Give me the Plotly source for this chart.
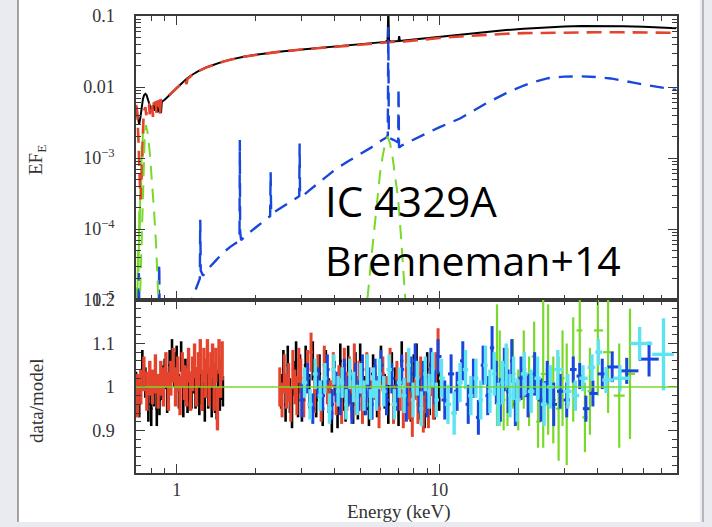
import numpy as np
import plotly.graph_objects as go

# ---------------- model components: energy (keV) vs E*F_E ----------------
total_kev = [0.700, 0.705, 0.710, 0.715, 0.720, 0.728, 0.736, 0.744, 0.752, 0.760,
             0.768, 0.776, 0.784, 0.792, 0.800, 0.810, 0.818, 0.824, 0.830, 0.842,
             0.848, 0.854, 0.866, 0.872, 0.878, 0.900, 0.930, 0.960, 1.00, 1.05,
             1.10, 1.15, 1.20, 1.30, 1.40, 1.50, 1.60, 1.70, 1.80, 2.00,
             2.20, 2.50, 3.00, 3.50, 4.00, 4.50, 5.00, 5.50, 6.00, 6.25,
             6.36, 6.40, 6.44, 6.55, 6.80, 7.00, 7.04, 7.08, 7.50, 8.00,
             9.00, 10.0, 12.0, 15.0, 18.0, 21.0, 25.0, 30.0, 35.0, 40.0,
             50.0, 60.0, 70.0, 80.0]
total_eff = [0.0050, 0.0044, 0.0036, 0.0031, 0.0030, 0.0038, 0.0055, 0.0068, 0.0077, 0.0080,
             0.0077, 0.0068, 0.0057, 0.0050, 0.0047, 0.0052, 0.0055, 0.0046, 0.0056, 0.0058,
             0.0044, 0.0059, 0.0061, 0.0043, 0.0062, 0.0066, 0.0073, 0.0083, 0.0097, 0.0116,
             0.0134, 0.0150, 0.0165, 0.0190, 0.0210, 0.0228, 0.0243, 0.0256, 0.0267, 0.0284,
             0.0299, 0.0317, 0.0338, 0.0356, 0.0371, 0.0384, 0.0396, 0.0408, 0.0420, 0.0432,
             0.0460, 0.1300, 0.0452, 0.0436, 0.0440, 0.0444, 0.0520, 0.0446, 0.0455, 0.0467,
             0.0490, 0.0512, 0.0548, 0.0595, 0.0633, 0.0663, 0.0692, 0.0712, 0.0722, 0.0725,
             0.0720, 0.0706, 0.0690, 0.0674]

powerlaw_kev = [0.700, 0.704, 0.708, 0.712, 0.716, 0.720, 0.724, 0.728, 0.732, 0.736,
                0.740, 0.744, 0.748, 0.752, 0.760, 0.766, 0.772, 0.784, 0.790, 0.796,
                0.806, 0.812, 0.818, 0.832, 0.838, 0.844, 0.858, 0.864, 0.870, 0.900,
                0.930, 0.960, 1.00, 1.05, 1.08, 1.09, 1.10, 1.15, 1.20, 1.30,
                1.40, 1.50, 1.60, 1.70, 1.80, 2.00, 2.20, 2.50, 3.00, 3.50,
                4.00, 4.50, 5.00, 5.50, 6.00, 6.40, 6.60, 7.00, 7.20, 7.50,
                8.00, 9.00, 10.0, 12.0, 15.0, 18.0, 21.0, 25.0, 30.0, 40.0,
                50.0, 60.0, 70.0, 80.0]
powerlaw_eff = [0.0056, 0.0052, 0.0044, 0.0030, 0.0016, 0.0008, 0.0004, 0.00026, 0.0003, 0.0006,
                0.0014, 0.0028, 0.0040, 0.0047, 0.0052, 0.0040, 0.0054, 0.0056, 0.0041, 0.0057,
                0.0058, 0.0038, 0.0059, 0.0061, 0.0042, 0.0062, 0.0064, 0.0040, 0.0065, 0.0069,
                0.0075, 0.0084, 0.0097, 0.0116, 0.0125, 0.0110, 0.0130, 0.0149, 0.0164, 0.0189,
                0.0209, 0.0227, 0.0242, 0.0255, 0.0266, 0.0283, 0.0298, 0.0316, 0.0337, 0.0355,
                0.0370, 0.0383, 0.0395, 0.0406, 0.0417, 0.0426, 0.0430, 0.0436, 0.0432, 0.0440,
                0.0452, 0.0472, 0.0490, 0.0515, 0.0545, 0.0562, 0.0573, 0.0581, 0.0587, 0.0590,
                0.0589, 0.0586, 0.0583, 0.0580]

reflection_kev = [0.712, 0.718, 0.724, None, 0.852, 0.858, 0.864, None,
                  1.10, 1.15, 1.20, 1.225, 1.23, 1.235, 1.26, 1.30, 1.40, 1.50,
                  1.60, 1.70, 1.735, 1.74, 1.745, 1.76, 1.80, 1.90, 2.00, 2.10,
                  2.20, 2.27, 2.28, 2.29, 2.35, 2.50, 2.70, 2.88, 2.93, 2.94,
                  2.95, 3.00, 3.05, 3.20, 3.50, 4.00, 4.50, 5.00, 5.50, 6.00,
                  6.30, 6.37, 6.40, 6.43, 6.50, 6.80, 6.98, 7.00, 7.03, 7.20,
                  7.50, 8.00, 9.00, 10.0, 12.0, 15.0, 18.0, 21.0, 23.0, 26.0,
                  30.0, 35.0, 40.0, 45.0, 50.0, 55.0, 60.0, 70.0, 80.0]
reflection_eff = [2e-6, 2.4e-5, 2e-6, None, 2e-6, 3.2e-5, 2e-6, None,
                  7e-6, 1.1e-5, 1.6e-5, 2.0e-5, 1.35e-4, 2.6e-5, 2.2e-5, 2.6e-5, 3.5e-5, 4.6e-5,
                  5.6e-5, 6.6e-5, 6.9e-5, 1.8e-3, 9.0e-5, 7.0e-5, 7.6e-5, 9.0e-5, 1.05e-4, 1.22e-4,
                  1.40e-4, 1.52e-4, 6.3e-4, 1.65e-4, 1.72e-4, 2.0e-4, 2.4e-4, 2.8e-4, 2.9e-4, 1.6e-3,
                  3.2e-4, 2.9e-4, 3.0e-4, 3.5e-4, 4.6e-4, 6.8e-4, 9.0e-4, 1.12e-3, 1.40e-3, 1.75e-3,
                  1.95e-3, 2.1e-3, 7.0e-2, 2.2e-3, 1.9e-3, 1.75e-3, 1.65e-3, 9.7e-3, 1.4e-3, 1.5e-3,
                  1.62e-3, 1.8e-3, 2.25e-3, 2.7e-3, 3.6e-3, 5.8e-3, 8.2e-3, 1.05e-2, 1.18e-2, 1.33e-2,
                  1.40e-2, 1.41e-2, 1.38e-2, 1.32e-2, 1.24e-2, 1.15e-2, 1.08e-2, 9.9e-3, 9.1e-3]

gauss_kev = [0.715, 0.725, 0.735, 0.745, 0.755, 0.763, 0.775, 0.790, 0.805, 0.820,
             0.835, 0.850, 0.860, None,
             5.20, 5.35, 5.50, 5.65, 5.80, 5.95, 6.10, 6.25, 6.36, 6.50,
             6.65, 6.80, 6.98, 7.15, 7.30, 7.45, 7.60]
gauss_eff = [3e-6, 1e-5, 6e-5, 4e-4, 1.8e-3, 2.9e-3, 2.3e-3, 1.2e-3, 5e-4, 1.8e-4,
             6e-5, 1.4e-5, 4e-6, None,
             5e-6, 1.2e-5, 3.5e-5, 1e-4, 2.6e-4, 6e-4, 1.1e-3, 1.7e-3, 2.0e-3, 1.6e-3,
             1.0e-3, 5.2e-4, 2.6e-4, 8e-5, 2.5e-5, 9e-6, 3e-6]

soft_kev = [0.700, 0.704, 0.708, 0.712, 0.716, 0.720, 0.724, 0.728, 0.732, 0.736,
            0.740, 0.744, 0.748]
soft_eff = [3e-6, 1.5e-5, 6e-6, 5e-5, 2.5e-5, 1.8e-4, 1e-4, 6e-4, 4e-4, 1.5e-3,
            1.0e-3, 2.8e-3, 2.2e-3]

# ---------------- data/model ratios ----------------
xis_a_soft_kev = [0.70, 0.72, 0.74, 0.76, 0.78, 0.80, 0.82, 0.84, 0.86, 0.88,
                  0.90, 0.92, 0.94, 0.96, 0.98, 1.00, 1.02, 1.04, 1.06, 1.08,
                  1.10, 1.12, 1.14, 1.16, 1.18, 1.20, 1.22, 1.24, 1.26, 1.28,
                  1.30, 1.32, 1.34, 1.36, 1.38, 1.40, 1.42, 1.44, 1.46, 1.48, 1.50]
xis_a_soft_ratio = [1.00, 0.97, 1.04, 1.01, 0.96, 0.95, 0.99, 0.95, 0.97, 1.01,
                    1.03, 0.98, 1.05, 1.07, 1.04, 1.06, 0.99, 1.07, 0.97, 1.03,
                    0.98, 1.00, 0.99, 1.02, 0.99, 1.01, 0.97, 1.00, 0.98, 0.96,
                    1.01, 0.99, 1.00, 0.97, 1.02, 0.98, 0.96, 1.00, 0.98, 1.01, 0.99]
xis_a_soft_err = [0.035, 0.04, 0.045, 0.035, 0.04, 0.04, 0.035, 0.04, 0.035, 0.04,
                  0.035, 0.04, 0.035, 0.04, 0.04, 0.035, 0.04, 0.035, 0.04, 0.035,
                  0.04, 0.035, 0.04, 0.035, 0.04, 0.035, 0.035, 0.04, 0.035, 0.04,
                  0.035, 0.04, 0.035, 0.04, 0.035, 0.04, 0.035, 0.04, 0.035, 0.04, 0.035]

xis_b_soft_kev = [0.71, 0.73, 0.75, 0.77, 0.79, 0.81, 0.83, 0.85, 0.87, 0.89,
                  0.91, 0.93, 0.95, 0.97, 0.99, 1.01, 1.03, 1.05, 1.07, 1.09,
                  1.11, 1.13, 1.15, 1.17, 1.19, 1.21, 1.23, 1.25, 1.27, 1.29,
                  1.31, 1.33, 1.35, 1.37, 1.39, 1.41, 1.43, 1.45, 1.47, 1.49]
xis_b_soft_ratio = [0.98, 1.00, 1.03, 0.99, 1.02, 1.00, 1.03, 0.99, 1.02, 1.00,
                    1.04, 0.99, 1.02, 1.05, 1.00, 1.03, 0.98, 1.04, 1.01, 1.00,
                    1.05, 0.99, 1.03, 1.06, 1.00, 1.04, 1.07, 0.99, 1.05, 1.02,
                    1.07, 1.00, 1.04, 1.06, 0.99, 1.05, 0.95, 1.07, 1.02, 1.06]
xis_b_soft_err = [0.05, 0.04, 0.04, 0.045, 0.04, 0.04, 0.045, 0.04, 0.04, 0.045,
                  0.04, 0.045, 0.04, 0.04, 0.045, 0.04, 0.045, 0.04, 0.04, 0.045,
                  0.04, 0.045, 0.04, 0.04, 0.045, 0.04, 0.04, 0.045, 0.04, 0.045,
                  0.04, 0.045, 0.04, 0.04, 0.045, 0.04, 0.05, 0.04, 0.045, 0.045]

xis_a_hard_kev = [2.50, 2.55, 2.60, 2.65, 2.70, 2.75, 2.80, 2.85, 2.90, 2.95, 3.00,
                  3.10, 3.20, 3.30, 3.40, 3.50, 3.60, 3.70, 3.80, 3.90, 4.00,
                  4.10, 4.20, 4.30, 4.40, 4.50, 4.60, 4.70, 4.80, 4.90, 5.00,
                  5.20, 5.40, 5.60, 5.80, 6.00, 6.20, 6.40, 6.60, 6.80, 7.00,
                  7.20, 7.40, 7.60, 7.80, 8.00, 8.20, 8.40, 8.60, 8.80, 9.00,
                  9.20, 9.40, 9.60, 9.80, 10.00]
xis_a_hard_ratio = [0.99, 1.04, 0.96, 1.05, 0.98, 0.95, 1.02, 1.06, 0.97, 1.03, 0.96,
                    1.05, 0.99, 1.06, 0.97, 1.03, 0.95, 1.04, 0.98, 0.94, 1.02,
                    0.95, 1.06, 0.99, 0.96, 1.05, 1.00, 0.96, 1.04, 0.97, 1.06,
                    0.98, 0.95, 1.03, 0.97, 1.05, 0.99, 0.96, 1.04, 1.00, 0.95,
                    1.06, 0.98, 1.02, 0.96, 1.03, 1.06, 0.97, 1.01, 0.95, 1.04,
                    0.98, 1.02, 0.97, 1.01, 0.99]
xis_a_hard_err = [0.04, 0.045, 0.04, 0.045, 0.04, 0.045, 0.04, 0.045, 0.04, 0.045, 0.04,
                  0.045, 0.04, 0.045, 0.04, 0.045, 0.04, 0.045, 0.04, 0.045, 0.04,
                  0.045, 0.04, 0.045, 0.04, 0.045, 0.04, 0.045, 0.04, 0.045, 0.04,
                  0.045, 0.04, 0.045, 0.04, 0.045, 0.04, 0.045, 0.04, 0.045, 0.04,
                  0.045, 0.04, 0.045, 0.04, 0.045, 0.04, 0.045, 0.04, 0.045, 0.04,
                  0.045, 0.04, 0.045, 0.04, 0.045]

xis_b_hard_kev = [2.47, 2.52, 2.57, 2.62, 2.67, 2.72, 2.77, 2.82, 2.87, 2.92, 2.97,
                  3.05, 3.15, 3.25, 3.35, 3.45, 3.55, 3.65, 3.75, 3.85, 3.95,
                  4.05, 4.15, 4.25, 4.35, 4.45, 4.55, 4.65, 4.75, 4.85, 4.95,
                  5.10, 5.30, 5.50, 5.70, 5.90, 6.10, 6.30, 6.50, 6.70, 6.90,
                  7.10, 7.30, 7.50, 7.70, 7.90, 8.10, 8.30, 8.50, 8.70, 8.90,
                  9.10, 9.30, 9.50, 9.70, 9.90]
xis_b_hard_ratio = [1.00, 0.97, 1.03, 0.99, 1.01, 0.96, 1.04, 1.00, 0.98, 1.05, 1.02,
                    0.97, 1.04, 1.08, 0.98, 1.03, 0.96, 1.05, 1.00, 0.97, 1.04,
                    0.98, 1.01, 0.96, 1.05, 0.99, 1.03, 0.97, 1.06, 0.98, 1.02,
                    0.96, 1.04, 0.97, 1.01, 0.95, 1.03, 0.98, 1.05, 0.96, 1.02,
                    0.99, 0.95, 1.04, 0.97, 0.93, 1.01, 0.96, 1.03, 0.94, 0.98,
                    0.95, 1.02, 0.97, 1.04, 1.10]
xis_b_hard_err = [0.045, 0.04, 0.045, 0.04, 0.045, 0.04, 0.045, 0.04, 0.045, 0.04, 0.045,
                  0.04, 0.045, 0.045, 0.04, 0.045, 0.04, 0.045, 0.04, 0.045, 0.04,
                  0.045, 0.04, 0.045, 0.04, 0.045, 0.04, 0.045, 0.04, 0.045, 0.04,
                  0.045, 0.04, 0.045, 0.04, 0.045, 0.04, 0.045, 0.04, 0.045, 0.04,
                  0.045, 0.045, 0.04, 0.045, 0.045, 0.04, 0.045, 0.04, 0.045, 0.04,
                  0.045, 0.04, 0.045, 0.04, 0.035]

fpma_kev = [3.00, 3.15, 3.30, 3.45, 3.60, 3.75, 3.90, 4.05, 4.20, 4.35,
            4.50, 4.65, 4.80, 4.95, 5.10, 5.25, 5.40, 5.55, 5.70, 5.85, 6.00,
            6.30, 6.60, 6.90, 7.20, 7.50, 7.80, 8.10, 8.40, 8.70, 9.00,
            9.30, 9.60, 9.90,
            10.5, 11.1, 11.7, 12.3, 12.9, 13.5, 14.1, 14.7, 15.3, 15.9,
            16.5, 17.1, 17.7, 18.3, 18.9, 19.5,
            20.5, 21.8, 23.1, 24.4, 25.8, 27.3,
            28.9, 30.6, 32.4, 34.3, 36.2, 38.5, 41.8, 45.6, 51.8, 63.0]
fpma_ratio = [0.97, 1.02, 0.95, 1.01, 0.98, 1.04, 0.96, 1.00, 0.97, 1.03,
              0.99, 0.95, 1.02, 0.98, 1.04, 0.97, 1.01, 0.96, 1.03, 0.99, 1.05,
              0.97, 1.02, 0.98, 1.04, 0.96, 1.03, 1.06, 0.98, 1.02, 0.97,
              1.05, 1.00, 1.07,
              0.97, 1.03, 0.99, 1.06, 0.96, 1.02, 0.93, 1.05, 0.98, 1.09,
              1.01, 0.97, 1.04, 0.99, 1.06, 0.96,
              1.02, 0.98, 1.03, 0.97, 1.01, 0.96,
              0.99, 0.97, 1.04, 1.025, 0.95, 0.985, 1.03, 1.046, 1.037, 1.064]
fpma_err = [0.04, 0.035, 0.035, 0.035, 0.035, 0.035, 0.035, 0.035, 0.035, 0.035,
            0.035, 0.035, 0.035, 0.035, 0.035, 0.035, 0.035, 0.035, 0.035, 0.035, 0.035,
            0.035, 0.035, 0.035, 0.035, 0.04, 0.04, 0.04, 0.04, 0.04, 0.04,
            0.04, 0.04, 0.04,
            0.045, 0.045, 0.045, 0.045, 0.045, 0.045, 0.04, 0.045, 0.045, 0.05,
            0.05, 0.05, 0.05, 0.05, 0.05, 0.05,
            0.05, 0.05, 0.05, 0.05, 0.05, 0.05,
            0.04, 0.04, 0.03, 0.03, 0.03, 0.03, 0.035, 0.035, 0.03, 0.04]

fpmb_kev = [3.07, 3.22, 3.37, 3.52, 3.67, 3.82, 3.97, 4.12, 4.27, 4.42,
            4.57, 4.72, 4.87, 5.02, 5.17, 5.32, 5.47, 5.62, 5.77, 5.92,
            6.15, 6.45, 6.75, 7.05, 7.35, 7.65, 7.95, 8.25, 8.55, 8.85,
            9.15, 9.45, 9.75,
            10.2, 10.8, 11.4, 12.0, 12.6, 13.2, 13.8, 14.4, 15.0, 15.6,
            16.2, 16.8, 17.4, 18.0, 18.6, 19.2, 19.8,
            21.1, 22.4, 23.7, 25.1, 26.5,
            28.3, 30.9, 33.0, 35.3, 38.2, 40.4, 43.2, 48.8, 58.0, 71.5]
fpmb_ratio = [1.01, 0.96, 1.03, 0.98, 1.02, 0.95, 1.04, 0.99, 1.01, 0.96,
              1.03, 1.00, 0.97, 1.02, 0.98, 1.04, 0.96, 1.01, 0.98, 1.03,
              0.99, 1.04, 0.96, 1.01, 0.98, 1.05, 0.97, 1.02, 0.95, 1.03,
              0.99, 1.04, 0.97,
              1.02, 0.96, 0.94, 1.01, 1.04, 0.98, 1.02, 0.97, 1.05, 0.99,
              1.03, 0.96, 1.01, 1.05, 0.98, 1.02, 0.97,
              1.03, 0.99, 1.02, 0.96, 1.00,
              1.04, 0.99, 0.98, 1.02, 1.045, 1.08, 1.016, 1.02, 1.10, 1.075]
fpmb_err = [0.035, 0.035, 0.035, 0.035, 0.035, 0.035, 0.035, 0.035, 0.035, 0.035,
            0.035, 0.035, 0.035, 0.035, 0.035, 0.035, 0.035, 0.035, 0.035, 0.035,
            0.035, 0.035, 0.035, 0.035, 0.04, 0.04, 0.04, 0.04, 0.04, 0.04,
            0.04, 0.04, 0.04,
            0.045, 0.045, 0.05, 0.045, 0.045, 0.045, 0.045, 0.045, 0.045, 0.05,
            0.05, 0.05, 0.05, 0.05, 0.05, 0.05, 0.05,
            0.05, 0.05, 0.05, 0.05, 0.05,
            0.045, 0.04, 0.035, 0.03, 0.03, 0.03, 0.03, 0.03, 0.038, 0.083]

pin_kev = [16.6, 17.0, 17.6, 18.2, 19.1, 20.0, 21.0, 22.0, 23.0, 23.8,
           24.9, 26.0, 27.2, 28.5, 29.5, 30.6, 32.4, 34.3, 35.9, 37.5,
           40.2, 44.0, 48.5, 53.3]
pin_ratio = [1.05, 1.02, 0.97, 1.00, 1.03, 0.97, 1.04, 0.99, 1.07, 0.92,
             1.03, 1.04, 0.97, 0.95, 1.02, 0.96, 1.04, 1.13, 0.93, 0.99,
             1.13, 1.08, 0.98, 1.03]
pin_err = [0.14, 0.11, 0.07, 0.09, 0.08, 0.07, 0.09, 0.08, 0.08, 0.06,
           0.17, 0.15, 0.10, 0.12, 0.11, 0.14, 0.12, 0.13, 0.08, 0.10,
           0.15, 0.14, 0.12, 0.15]

# ---------------- styling ----------------
W, H = 712, 527
BLACK, RED, BLUE, CYAN, GREEN = "#000000", "#e4432d", "#1747dc", "#5fe3f2", "#79d92a"
AXIS = "#3a3a3a"
SERIF = "Liberation Serif"


def px_x(p):
    return p / W


def px_y(p):
    return 1 - p / H


def bin_halves(e):
    """Half-widths to the left and right of each bin centre (contiguous bins)."""
    e = np.asarray(e, float)
    d = np.diff(e)
    left = np.concatenate([[d[0]], d]) / 2
    right = np.concatenate([d, [d[-1]]]) / 2
    return left, right


fig = go.Figure()

# model curves (upper panel)
fig.add_trace(go.Scatter(x=total_kev, y=total_eff, mode="lines",
                         line=dict(color=BLACK, width=2)))
fig.add_trace(go.Scatter(x=soft_kev, y=soft_eff, mode="lines",
                         line=dict(color=GREEN, width=2)))
fig.add_trace(go.Scatter(x=powerlaw_kev, y=powerlaw_eff, mode="lines",
                         line=dict(color=RED, width=2.6, dash="15px,8px")))
fig.add_trace(go.Scatter(x=reflection_kev, y=reflection_eff, mode="lines", connectgaps=False,
                         line=dict(color=BLUE, width=2.4, dash="14px,9px")))
fig.add_trace(go.Scatter(x=gauss_kev, y=gauss_eff, mode="lines", connectgaps=False,
                         line=dict(color=GREEN, width=2, dash="14px,9px")))


# residuals (lower panel)
def add_ratio(kev, ratio, err, color, thick=2.8):
    lo, hi = bin_halves(kev)
    fig.add_trace(go.Scatter(
        x=kev, y=ratio, mode="markers", xaxis="x2", yaxis="y2",
        marker=dict(size=1, color=color),
        error_y=dict(type="data", array=err, color=color, thickness=thick, width=0),
        error_x=dict(type="data", array=hi, arrayminus=lo, color=color,
                     thickness=thick, width=0),
    ))


add_ratio(xis_a_soft_kev, xis_a_soft_ratio, xis_a_soft_err, BLACK, thick=2.6)
add_ratio(xis_a_hard_kev, xis_a_hard_ratio, xis_a_hard_err, BLACK, thick=2.6)
add_ratio(xis_b_soft_kev, xis_b_soft_ratio, xis_b_soft_err, RED, thick=3.4)
add_ratio(xis_b_hard_kev, xis_b_hard_ratio, xis_b_hard_err, RED, thick=3.0)
add_ratio(pin_kev, pin_ratio, pin_err, GREEN, thick=2.2)
add_ratio(fpma_kev, fpma_ratio, fpma_err, BLUE, thick=3.0)
add_ratio(fpmb_kev, fpmb_ratio, fpmb_err, CYAN, thick=3.4)

tickfont = dict(family=SERIF, size=18, color="#333333")
common = dict(showline=True, linecolor=AXIS, linewidth=1.5, mirror="ticks",
              ticks="inside", tickcolor=AXIS, tickwidth=1.2, ticklen=9,
              showgrid=False, zeroline=False, automargin=False, tickfont=tickfont)

x_minor = [0.7, 0.8, 0.9, 2, 3, 4, 5, 6, 7, 8, 9, 20, 30, 40, 50, 60, 70, 80]
y_minor = [m * 10.0 ** k for k in range(-5, -1) for m in range(2, 10)]
r_minor = [0.82, 0.84, 0.86, 0.88, 0.92, 0.94, 0.96, 0.98, 1.02, 1.04, 1.06, 1.08,
           1.12, 1.14, 1.16, 1.18]
minor_style = dict(ticks="inside", ticklen=5, tickcolor=AXIS, tickwidth=1.1, showgrid=False)

x_dom = [px_x(136), px_x(677)]
x_rng = [np.log10(0.7), np.log10(80.5)]

fig.update_layout(
    template="none",
    width=W, height=H, margin=dict(l=0, r=0, t=0, b=0, pad=0, autoexpand=False),
    paper_bgcolor="#eaebf0", plot_bgcolor="white", showlegend=False,
    xaxis=dict(type="log", domain=x_dom, range=x_rng, anchor="y",
               tickmode="array", tickvals=[1, 10], showticklabels=False,
               minor=dict(tickmode="array", tickvals=x_minor, **minor_style), **common),
    yaxis=dict(type="log", domain=[px_y(300), px_y(16)], range=[-5, -1], anchor="x",
               tickmode="array", tickvals=[1e-5, 1e-4, 1e-3, 1e-2, 1e-1],
               ticktext=["10<sup>\u22125</sup>", "10<sup>\u22124</sup>", "10<sup>\u22123</sup>",
                         "0.01", "0.1"],
               ticklabelstandoff=16,
               minor=dict(tickmode="array", tickvals=y_minor, **minor_style), **common),
    xaxis2=dict(type="log", domain=x_dom, range=x_rng, anchor="y2", matches="x",
                tickmode="array", tickvals=[1, 10], ticktext=["1", "10"],
                ticklabelstandoff=0,
                minor=dict(tickmode="array", tickvals=x_minor, **minor_style), **common),
    yaxis2=dict(domain=[px_y(473), px_y(300)], range=[0.802, 1.2], anchor="x2",
                tickmode="array", tickvals=[0.9, 1.0, 1.1, 1.2],
                ticktext=["0.9", "1", "1.1", "1.2"], ticklabelstandoff=16,
                minor=dict(tickmode="array", tickvals=r_minor, **minor_style), **common),
)

# unity line in the ratio panel
fig.add_shape(type="line", xref="x2 domain", yref="y2", x0=0, x1=1, y0=1, y1=1,
              line=dict(color=GREEN, width=1.6))

# white card behind the figure
fig.add_shape(type="rect", xref="paper", yref="paper", layer="below",
              x0=px_x(18), x1=px_x(700), y0=px_y(522), y1=1.0,
              fillcolor="white", line=dict(width=0))
fig.add_shape(type="line", xref="paper", yref="paper", layer="below",
              x0=px_x(18), x1=px_x(18), y0=px_y(522), y1=1.0,
              line=dict(color="#8f8682", width=1.5))
fig.add_shape(type="line", xref="paper", yref="paper", layer="below",
              x0=px_x(703), x1=px_x(703), y0=px_y(522), y1=1.0,
              line=dict(color="#a4a4ac", width=1.5))

# axis titles
title_font = dict(family=SERIF, size=19, color="#333333")
fig.add_annotation(text="EF<sub>E</sub>", x=px_x(37), y=px_y(160), xref="paper", yref="paper",
                   xanchor="center", yanchor="middle", textangle=-90, showarrow=False,
                   font=title_font)
fig.add_annotation(text="data/model", x=px_x(36), y=px_y(401), xref="paper", yref="paper",
                   xanchor="center", yanchor="middle", textangle=-90, showarrow=False,
                   font=title_font)
fig.add_annotation(text="Energy (keV)", x=px_x(399), y=px_y(512), xref="paper", yref="paper",
                   xanchor="center", yanchor="middle", showarrow=False, font=title_font)

# source label
fig.add_annotation(text="IC 4329A", x=px_x(323), y=px_y(200), xref="paper", yref="paper",
                   xanchor="left", yanchor="middle", showarrow=False,
                   font=dict(family="Open Sans", size=42, color="black"))
fig.add_annotation(text="Brenneman+14", x=px_x(323), y=px_y(260), xref="paper", yref="paper",
                   xanchor="left", yanchor="middle", showarrow=False,
                   font=dict(family="Open Sans", size=41, color="black"))

fig.write_html("out.html")
